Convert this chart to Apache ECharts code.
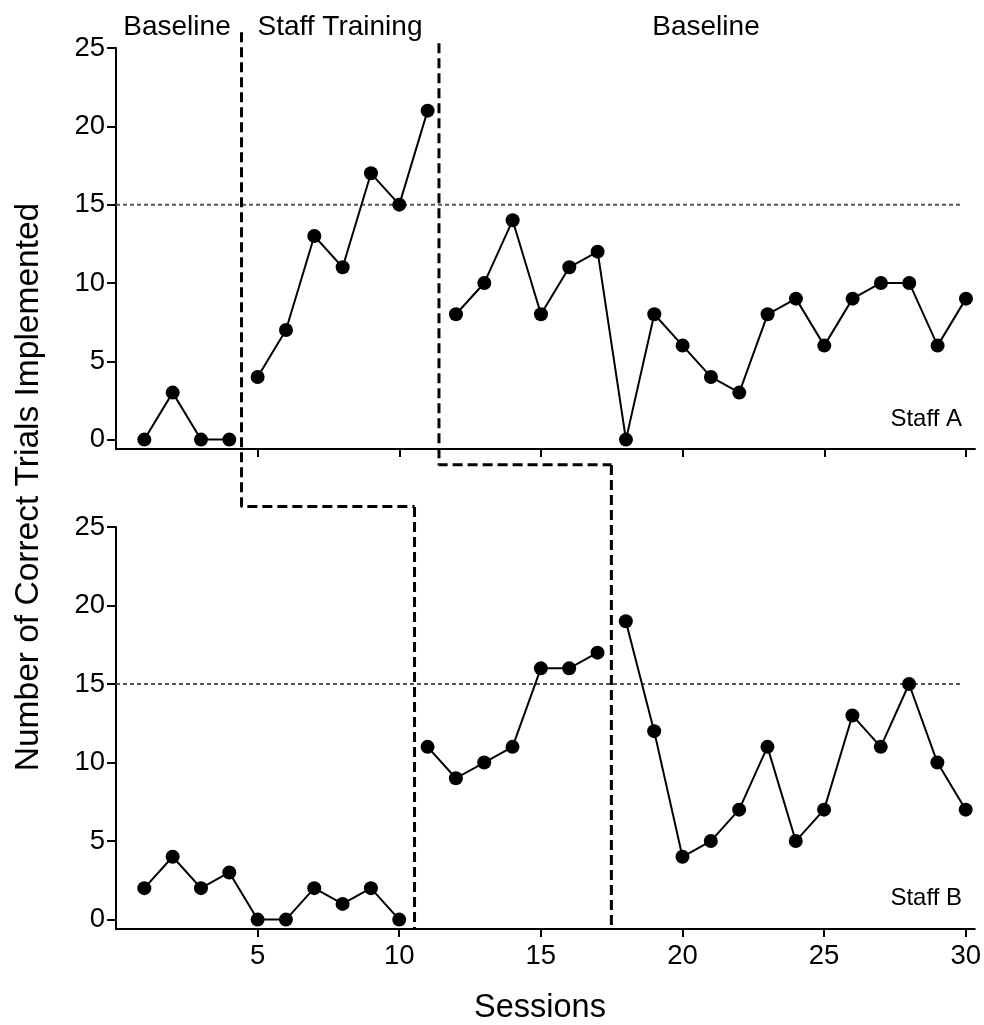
<!DOCTYPE html>
<html>
<head>
<meta charset="utf-8">
<script src="https://cdn.jsdelivr.net/npm/echarts@6/dist/echarts.min.js"></script>
<style>
html,body{margin:0;padding:0;background:#fff;}
#chart{width:984px;height:1025px;}
</style>
</head>
<body>
<div id="chart"></div>
<script>
// ---- data ----
const sessions = [1,2,3,4,5,6,7,8,9,10,11,12,13,14,15,16,17,18,19,20,21,22,23,24,25,26,27,28,29,30];
const staffA = [0,3,0,0, 4,7,13,11,17,15,21, 8,10,14,8,11,12,0,8,6,4,3,8,9,6,9,10,10,6,9];
const staffB = [2,4,2,3,0,0,2,1,2,0, 11,9,10,11,16,16,17, 19,12,4,5,7,11,5,7,13,11,15,10,7];
const phaseEndsA = [4, 11];       // last session of each phase (Staff A)
const phaseEndsB = [10, 17];      // last session of each phase (Staff B)
const phaseLineA = [4.43, 11.4];  // phase-change line positions in top panel (sessions)
const phaseLineB = [10.54, 17.49];// phase-change line positions in bottom panel (sessions)
const criterion = 15;
const yTicks = [0,5,10,15,20,25];
const xTicks = [5,10,15,20,25,30];
const phaseLabels = ['Baseline', 'Staff Training', 'Baseline'];
const panelLabels = ['Staff A', 'Staff B'];

const FONT = '"Liberation Sans", Arial, Helvetica, sans-serif';
const chart = echarts.init(document.getElementById('chart'), null, {renderer: 'canvas'});

function segments(values, ends, gridIdx) {
  const out = [];
  const bounds = [0].concat(ends).concat([values.length]);
  for (let s = 0; s < bounds.length - 1; s++) {
    const data = [];
    for (let i = bounds[s]; i < bounds[s+1]; i++) data.push([sessions[i], values[i]]);
    out.push({
      type: 'line', xAxisIndex: gridIdx, yAxisIndex: gridIdx, data: data,
      symbol: 'circle', symbolSize: 14, z: 5,
      lineStyle: {color: '#000', width: 2},
      itemStyle: {color: '#000'},
      animation: false
    });
  }
  return out;
}

function critLine(gridIdx) {
  return {
    type: 'line', xAxisIndex: gridIdx, yAxisIndex: gridIdx,
    data: [[0, criterion], [29.82, criterion]], symbol: 'none', z: 1,
    lineStyle: {color: '#555', width: 2, type: [4, 3]}, animation: false, silent: true
  };
}

function phaseSeries(gridIdx, data) {
  return {
    type: 'line', xAxisIndex: gridIdx, yAxisIndex: gridIdx, data: data,
    symbol: 'none', clip: false, z: 3,
    lineStyle: {color: '#000', width: 3, type: [10, 5]}, animation: false, silent: true
  };
}

const axisLine = {show: true, onZero: false, lineStyle: {color: '#000', width: 2}};
function xAxis(gridIdx, showLabels) {
  return {
    type: 'value', gridIndex: gridIdx, min: 0, max: 30.32,
    axisLine: axisLine,
    axisTick: {show: true, inside: false, length: 8, customValues: xTicks, lineStyle: {color: '#000', width: 2}},
    axisLabel: {show: showLabels, customValues: xTicks, fontSize: 27.5, color: '#000', fontFamily: FONT, margin: 13},
    splitLine: {show: false}
  };
}
function yAxis(gridIdx) {
  return {
    type: 'value', gridIndex: gridIdx, min: -0.6, max: 25,
    axisLine: axisLine,
    axisTick: {show: true, inside: false, length: 9, customValues: yTicks, lineStyle: {color: '#000', width: 2}},
    axisLabel: {show: true, customValues: yTicks, fontSize: 27.5, color: '#000', fontFamily: FONT, margin: 11},
    splitLine: {show: false}
  };
}

const series = [];
series.push(...segments(staffA, phaseEndsA, 0));
series.push(...segments(staffB, phaseEndsB, 1));
series.push(critLine(0), critLine(1));
series.push(phaseSeries(0, [[phaseLineA[0], 26.0], [phaseLineA[0], -4.27], [phaseLineB[0], -4.27]]));
series.push(phaseSeries(1, [[phaseLineB[0], 26.28], [phaseLineB[0], -0.6]]));
series.push(phaseSeries(0, [[phaseLineA[1], 25.3], [phaseLineA[1], -1.6], [phaseLineB[1], -1.6]]));
series.push(phaseSeries(1, [[phaseLineB[1], 28.95], [phaseLineB[1], -0.6]]));

const txt = (text, x, y, size, align, extra) => Object.assign({
  type: 'text', x: x, y: y, z: 10,
  style: {text: text, fontSize: size, fontFamily: FONT, fill: '#000', align: align || 'center', verticalAlign: 'middle'}
}, extra || {});

chart.setOption({
  backgroundColor: '#fff',
  animation: false,
  grid: [
    {left: 116, top: 48, width: 859, height: 401},
    {left: 116, top: 527, width: 859, height: 402}
  ],
  xAxis: [xAxis(0, false), xAxis(1, true)],
  yAxis: [yAxis(0), yAxis(1)],
  series: series,
  graphic: [
    txt(phaseLabels[0], 177, 27, 28),
    txt(phaseLabels[1], 340, 27, 28),
    txt(phaseLabels[2], 706, 27, 28),
    txt(panelLabels[0], 962, 419, 24, 'right'),
    txt(panelLabels[1], 962, 898, 24, 'right'),
    txt('Sessions', 540, 1008, 32.5),
    txt('Number of Correct Trials Implemented', 29, 487, 33.5, 'center', {rotation: Math.PI / 2})
  ]
});
</script>
</body>
</html>
